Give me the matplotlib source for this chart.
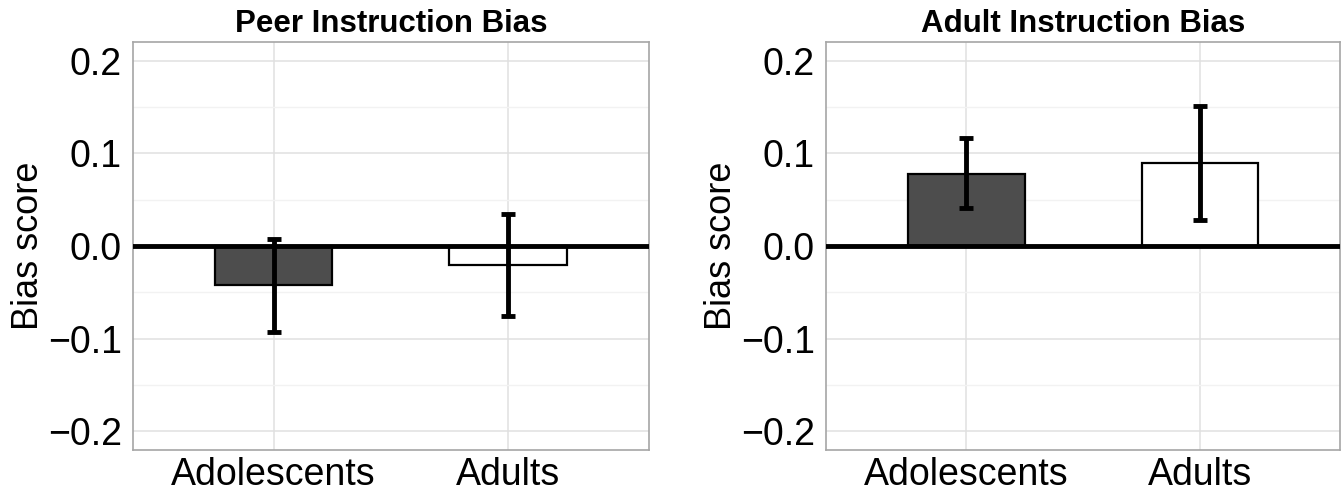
import matplotlib
matplotlib.use("Agg")
import matplotlib.pyplot as plt
from matplotlib.ticker import MultipleLocator, FuncFormatter

plt.rcParams["font.family"] = ["Liberation Sans", "DejaVu Sans"]

groups = ["Adolescents", "Adults"]
fills = ["#4d4d4d", "#ffffff"]

peer_mean = [-0.042, -0.020]
peer_lo = [-0.093, -0.075]
peer_hi = [0.008, 0.034]

adult_mean = [0.078, 0.089]
adult_lo = [0.041, 0.028]
adult_hi = [0.116, 0.151]

panels = [
    ("Peer Instruction Bias", peer_mean, peer_lo, peer_hi),
    ("Adult Instruction Bias", adult_mean, adult_lo, adult_hi),
]

fig = plt.figure(figsize=(13.43, 4.94), dpi=100)
boxes = [[0.099, 0.089, 0.384, 0.826], [0.615, 0.089, 0.383, 0.826]]

for box, (title, mean, lo, hi) in zip(boxes, panels):
    ax = fig.add_axes(box)
    x = list(range(len(groups)))
    ax.bar(x, mean, width=0.5, color=fills, edgecolor="black", linewidth=1.6, zorder=3)
    yerr = [[m - l for m, l in zip(mean, lo)], [h - m for m, h in zip(mean, hi)]]
    ax.errorbar(x, mean, yerr=yerr, fmt="none", ecolor="black", elinewidth=3.5,
                capsize=5, capthick=3.5, zorder=4)
    ax.axhline(0, color="black", linewidth=3.5, zorder=5)

    ax.set_xlim(-0.6, 1.6)
    ax.set_ylim(-0.22, 0.22)
    ax.yaxis.set_major_locator(MultipleLocator(0.1))
    ax.yaxis.set_minor_locator(MultipleLocator(0.05))
    ax.yaxis.set_major_formatter(FuncFormatter(lambda v, p: f"{v:.1f}".replace("-", "\u2212")))
    ax.set_xticks(x)
    ax.set_xticklabels(groups)

    ax.grid(True, which="major", color="#e0e0e0", linewidth=1.1, zorder=0)
    ax.grid(True, which="minor", axis="y", color="#f2f2f2", linewidth=1.0, zorder=0)
    ax.set_axisbelow(True)
    ax.tick_params(which="both", length=0, labelsize=27, colors="black")
    ax.tick_params(axis="y", pad=8)
    ax.tick_params(axis="x", pad=5)
    for s in ax.spines.values():
        s.set_color("#a6a6a6")
        s.set_linewidth(1.2)

    ax.set_title(title, fontsize=22.5, fontweight="bold", pad=7)
    ax.set_ylabel("Bias score", fontsize=26, labelpad=1)

fig.savefig("out.png", dpi=100)
